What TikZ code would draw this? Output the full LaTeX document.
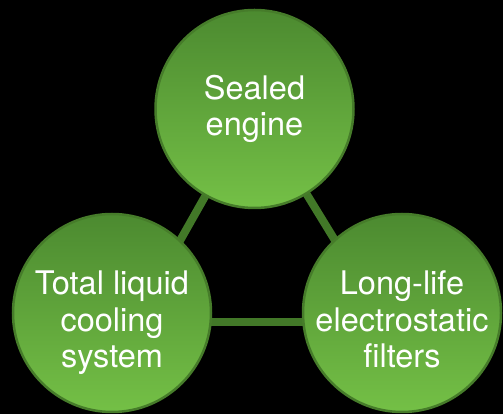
\documentclass[tikz,border=0pt]{standalone}
\usepackage{fontspec}
\setmainfont{TeX Gyre Heros}
\usetikzlibrary{backgrounds}
\definecolor{circtop}{RGB}{76,138,48}
\definecolor{circbot}{RGB}{116,192,70}
\definecolor{circedge}{RGB}{70,124,42}
\definecolor{linkgreen}{RGB}{66,120,40}
\begin{document}
\begin{tikzpicture}[x=1pt,y=1pt,
  bubble/.style={circle, minimum size=198pt, inner sep=0pt, line width=2.5pt,
    draw=circedge, top color=circtop, bottom color=circbot},
  label text/.style={text=white, align=center, inner sep=0pt,
    font=\fontsize{32.5}{36.5}\selectfont},
  link/.style={draw=linkgreen, line width=8pt}]
\useasboundingbox (0,0) rectangle (503,414);
\node[bubble] (T) at (254.5,305) {};
\node[bubble] (L) at (112,101) {};
\node[bubble] (R) at (402,101) {};
\node[label text] (Tt) at (T.center) {Sealed\\engine};
\node[label text, yshift=-10pt] (Lt) at (L.center) {Total liquid\\cooling\\system};
\node[label text, yshift=-6.5pt] (Rt) at (R.center) {Long-life\\electrostatic\\filters};
\coordinate (BL) at (134,92);
\coordinate (BR) at (385,92);
\begin{scope}[on background layer]
\fill[black] (0,0) rectangle (503,414);
\draw[link] (T.center) -- (BL);
\draw[link] (T.center) -- (BR);
\draw[link] (BL) -- (BR);
\end{scope}
\end{tikzpicture}
\end{document}
